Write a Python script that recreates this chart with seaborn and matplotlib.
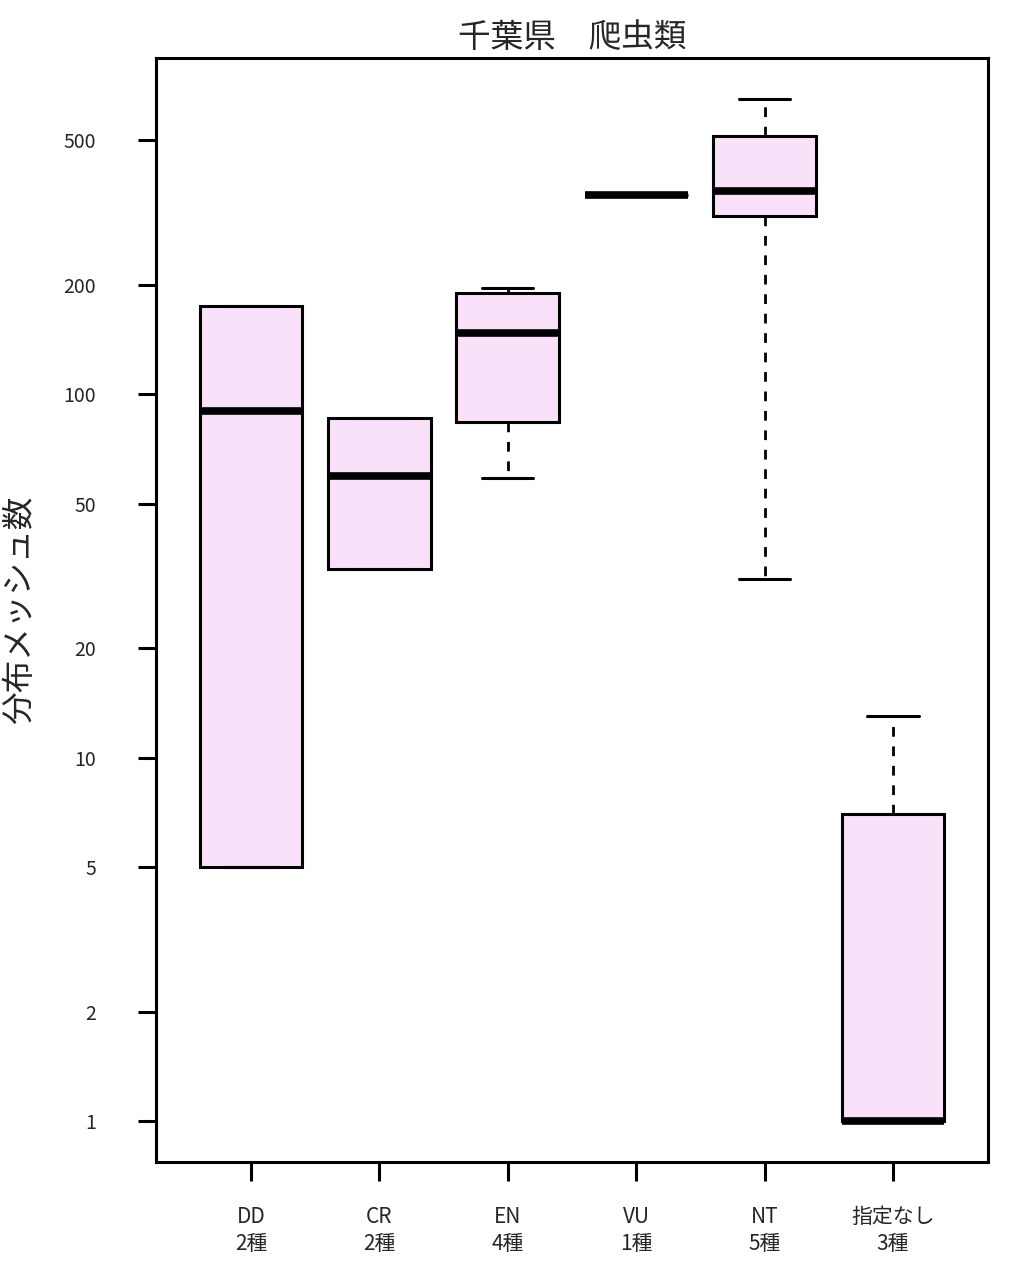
import numpy as np
import pandas as pd
import matplotlib
matplotlib.use("Agg")
import matplotlib.pyplot as plt
import seaborn as sns

# ---- data ----
categories = ["DD", "CR", "EN", "VU", "NT", "指定なし"]
species_counts = ["2種", "2種", "4種", "1種", "5種", "3種"]
dd_values = [5, 175]
cr_values = [33, 86]
en_values = [59, 109, 185, 196]
vu_values = [354]
nt_values = [31, 310, 363, 515, 650]
none_values = [1, 1, 13]
y_ticks = [1, 2, 5, 10, 20, 50, 100, 200, 500]
title = "千葉県　爬虫類"
ylabel = "分布メッシュ数"

groups = [dd_values, cr_values, en_values, vu_values, nt_values, none_values]


def fivenum(x):
    """Tukey five-number summary (as R's boxplot uses)."""
    x = np.sort(np.asarray(x, dtype=float))
    n = len(x)
    n4 = np.floor((n + 3) / 2) / 2
    d = np.array([1, n4, (n + 1) / 2, n + 1 - n4, n])
    return 0.5 * (x[np.floor(d).astype(int) - 1] + x[np.ceil(d).astype(int) - 1])


rows = []
for cat, vals in zip(categories, groups):
    for v in fivenum(vals):
        rows.append({"cat": cat, "value": v})
df = pd.DataFrame(rows)

sns.set_theme(style="ticks")
plt.rcParams["font.family"] = ["Noto Sans CJK JP", "DejaVu Sans"]

fig = plt.figure(figsize=(10.12, 12.8), dpi=100)
ax = fig.add_axes([156 / 1012, 1 - 1162 / 1280, (988 - 156) / 1012, (1162 - 58) / 1280])
ax.set_yscale("log")

sns.boxplot(
    data=df, x="cat", y="value", order=categories, ax=ax,
    color="#F9E1F9", saturation=1, width=0.8, whis=(0, 100),
    linecolor="black", linewidth=2.2, fliersize=0,
    medianprops=dict(linewidth=5.5, color="black", solid_capstyle="butt"),
    whiskerprops=dict(linestyle=(0, (3.5, 3.5)), linewidth=2.0, color="black"),
    capprops=dict(linewidth=2.2, color="black"),
)

ax.set_xlim(-0.74, 5.74)
ax.set_ylim(10 ** -0.1125, 10 ** 2.9254)
ax.yaxis.set_major_locator(matplotlib.ticker.FixedLocator(y_ticks))
ax.yaxis.set_minor_locator(matplotlib.ticker.NullLocator())
ax.set_yticklabels([str(t) for t in y_ticks])
ax.set_xticks(range(len(categories)))
ax.set_xticklabels([f"{c}\n{n}" for c, n in zip(categories, species_counts)],
                   linespacing=1.25)
ax.tick_params(axis="y", length=13, width=2.2, pad=30, labelsize=14, color="black")
ax.tick_params(axis="x", length=14, width=2.2, pad=18, labelsize=15, color="black")
for s in ax.spines.values():
    s.set_visible(True)
    s.set_color("black")
    s.set_linewidth(2.2)
ax.set_xlabel("")
ax.set_ylabel("")
ax.grid(False)

fig.text(572 / 1012, 1 - 38 / 1280, title, ha="center", va="center", fontsize=23.5)
fig.text(20 / 1012, 1 - 610 / 1280, ylabel, ha="center", va="center",
         rotation=90, fontsize=23.5)

fig.savefig("out.png", dpi=100, facecolor="white")
